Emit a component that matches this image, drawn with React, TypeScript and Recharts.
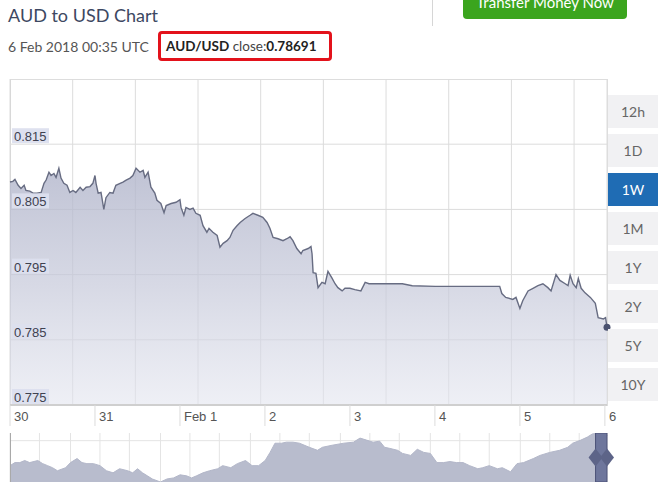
import React from 'react';
import { AreaChart, Area, XAxis, YAxis, CartesianGrid, ReferenceArea } from 'recharts';

// main 1W series: hours since 30 Jan 00:00 UTC, AUD/USD rate
const hours = [
  0, 0.8, 1.4, 2.3, 3.1, 4.0, 4.5, 5.6, 6.5, 7.6,
  8.8, 9.6, 10.2, 11.0, 11.6, 12.4, 13.0, 13.8, 14.4, 15.2,
  16.1, 16.9, 17.8, 18.6, 19.8, 20.6, 21.5, 22.6, 23.4, 24.0,
  24.3, 24.9, 25.7, 26.5, 27.1, 28.2, 29.1, 29.9, 31.1, 31.9,
  32.8, 33.9, 34.7, 35.6, 36.7, 37.6, 38.1, 39.0, 39.8, 40.9,
  41.5, 42.6, 43.5, 44.1, 45.5, 46.9, 48.0, 48.3, 49.1, 49.7,
  50.8, 51.7, 52.5, 53.7, 54.5, 55.6, 56.2, 57.3, 58.5, 59.3,
  60.2, 61.3, 62.1, 63.0, 64.1, 65.0, 66.4, 67.8, 68.6, 70.0,
  71.4, 72.6, 73.4, 74.3, 75.7, 77.1, 78.2, 79.1, 79.9, 81.0,
  82.2, 82.7, 84.2, 85.0, 85.3, 85.6, 86.4, 87.0, 88.1, 89.0,
  89.8, 90.9, 91.8, 92.6, 93.8, 94.6, 96.0, 97.4, 99.1, 100.3,
  101.4, 110.8, 113.6, 120.1, 138.3, 138.9, 140.0, 142.0, 142.9, 144.0,
  144.8, 146.3, 147.7, 149.1, 150.5, 151.9, 152.8, 154.2, 155.3, 156.8,
  157.6, 158.2, 159.0, 159.9, 160.5, 161.3, 162.4, 163.9, 165.3, 166.1,
  167.6, 168.2, 168.6,
];
const rates = [
  0.8092, 0.8093, 0.8096, 0.8087, 0.8082, 0.8087, 0.8079, 0.8078, 0.8075, 0.8075,
  0.8076, 0.8090, 0.8095, 0.8107, 0.8102, 0.8105, 0.8099, 0.8113, 0.8098, 0.8090,
  0.8087, 0.8076, 0.8079, 0.8076, 0.8084, 0.8079, 0.8084, 0.8085, 0.8090, 0.8102,
  0.8090, 0.8075, 0.8076, 0.8050, 0.8068, 0.8076, 0.8075, 0.8087, 0.8090, 0.8092,
  0.8095, 0.8098, 0.8102, 0.8113, 0.8107, 0.8110, 0.8099, 0.8107, 0.8084, 0.8075,
  0.8064, 0.8059, 0.8045, 0.8056, 0.8059, 0.8061, 0.8065, 0.8053, 0.8041, 0.8053,
  0.8050, 0.8052, 0.8044, 0.8041, 0.8025, 0.8015, 0.8021, 0.8015, 0.8010, 0.7992,
  0.7998, 0.8002, 0.8007, 0.8018, 0.8025, 0.8030, 0.8036, 0.8041, 0.8044, 0.8041,
  0.8038, 0.8030, 0.8021, 0.8007, 0.8005, 0.8002, 0.8005, 0.8008, 0.8002, 0.7990,
  0.7982, 0.7987, 0.7990, 0.7993, 0.7982, 0.7953, 0.7952, 0.7930, 0.7938, 0.7936,
  0.7955, 0.7945, 0.7936, 0.7930, 0.7925, 0.7929, 0.7929, 0.7927, 0.7925, 0.7938,
  0.7936, 0.7936, 0.7933, 0.7932, 0.7932, 0.7921, 0.7915, 0.7912, 0.7915, 0.7898,
  0.7910, 0.7925, 0.7929, 0.7933, 0.7936, 0.7930, 0.7925, 0.7950, 0.7941, 0.7936,
  0.7933, 0.7949, 0.7936, 0.7930, 0.7944, 0.7929, 0.7922, 0.7915, 0.7906, 0.7884,
  0.7882, 0.7884, 0.78691,
];

const dayTicks = [0, 24, 48, 72, 96, 120, 144, 168];
const dayLabels = ['30', '31', 'Feb 1', '2', '3', '4', '5', '6'];
const gridHours = [17.7, 35.4, 53.1, 70.8, 88.5, 106.2, 123.9, 141.6, 159.3];
const rateTicks = [0.775, 0.785, 0.795, 0.805, 0.815, 0.825];

// navigator (1 year, days) shown under the chart
const navDays = [
  0, 3, 6, 9, 12, 17, 20, 23, 26, 29, 34, 37, 41, 44, 47, 51, 55, 59, 63, 67,
  72, 75, 78, 81, 84, 87, 92, 96, 100, 104, 108, 111, 114, 118, 122, 127, 130, 135, 139, 144,
  148, 152, 156, 159, 162, 166, 169, 173, 177, 183, 188, 191, 197, 204, 210, 214, 218, 222, 226, 229,
  232, 237, 240, 245, 249, 253, 257, 261, 265, 269, 273, 277, 281, 286, 289, 293, 298, 301, 306, 310,
  314, 320, 324, 330, 336, 341, 344, 349, 353, 356, 360, 363, 365,
];
const navRates = [
  0.7599, 0.7649, 0.7649, 0.7683, 0.7649, 0.7683, 0.7632, 0.7599, 0.7565, 0.7515, 0.7565, 0.7649, 0.7716, 0.7649, 0.7632, 0.7632, 0.7599, 0.7515, 0.7481, 0.7548,
  0.7515, 0.7481, 0.7548, 0.7481, 0.7431, 0.7380, 0.7330, 0.7380, 0.7397, 0.7448, 0.7431, 0.7397, 0.7431, 0.7481, 0.7515, 0.7548, 0.7599, 0.7565, 0.7632, 0.7683,
  0.7599, 0.7599, 0.7683, 0.7817, 0.7968, 0.7968, 0.7985, 0.7985, 0.7968, 0.7901, 0.7851, 0.7901, 0.7935, 0.7968, 0.7985, 0.8052, 0.8019, 0.7985, 0.8002, 0.7901,
  0.7884, 0.7851, 0.7800, 0.7767, 0.7868, 0.7817, 0.7800, 0.7649, 0.7649, 0.7666, 0.7649, 0.7649, 0.7599, 0.7548, 0.7565, 0.7599, 0.7548, 0.7565, 0.7498, 0.7632,
  0.7649, 0.7716, 0.7767, 0.7817, 0.7851, 0.7901, 0.7968, 0.8019, 0.8069, 0.8120, 0.8136, 0.7968, 0.8103,
];
const navGridDays = [18, 37, 55, 73, 92, 110, 128, 147, 165, 183, 202, 220, 238, 257, 275, 293, 312, 330, 348];
const navGridRates = [0.7700, 0.7820, 0.7930, 0.8010];

const ranges = ['12h', '1D', '1W', '1M', '1Y', '2Y', '5Y', '10Y'];
const activeRange = '1W';
const closeRate = '0.78691';

const data = hours.map((h, i) => ({ h, rate: rates[i] }));
const navData = navDays.map((d, i) => ({ d, rate: navRates[i] }));

const axisFont = '"Liberation Sans", Arial, sans-serif';
const uiFont = 'Lato, "Open Sans", sans-serif';

const DayTick = (props: any) => {
  const { x, y, index } = props;
  return (
    <g>
      <line x1={x} x2={x} y1={y} y2={y + 21} stroke="#dcdcdc" />
      <text x={x + 4} y={y + 16} fill="#555" fontSize={13} fontFamily={axisFont}>
        {dayLabels[index]}
      </text>
    </g>
  );
};

const RateTick = (props: any) => {
  const { x, y, payload } = props;
  if (payload.value > 0.82) return <g />;
  return (
    <g>
      <rect x={x + 2} y={y - 16} width={37} height={15} fill="rgba(220,223,238,0.95)" />
      <text x={x + 4} y={y - 3} fill="#3f4150" fontSize={13} fontFamily={axisFont}>
        {payload.value.toFixed(3)}
      </text>
    </g>
  );
};

const LastDot = (props: any) => {
  const { cx, cy, index } = props;
  if (index !== data.length - 1) return <g key={index} />;
  return <circle key={index} cx={cx} cy={cy} r={3.5} fill="#4b5270" />;
};

const Handle = (props: any) => {
  const { x, y, width, height } = props;
  const cy = y + height / 2;
  const diamond = (cx: number) =>
    `${cx - 7},${cy} ${cx},${cy - 9} ${cx + 7},${cy} ${cx},${cy + 9}`;
  return (
    <g>
      <rect x={x} y={y} width={width} height={height} fill="#6e769c" stroke="#4c5278" />
      <polygon points={diamond(x)} fill="#5d6488" />
      <polygon points={diamond(x + width)} fill="#5d6488" />
    </g>
  );
};

export default function App() {
  return (
    <div style={{ position: 'absolute', left: 0, top: 0, width: 660, height: 494, background: '#fff', overflow: 'hidden', fontFamily: uiFont }}>
      {/* header */}
      <div style={{ position: 'absolute', left: 8, top: 4, fontSize: 18, color: '#3d4862' }}>AUD to USD Chart</div>
      <div style={{ position: 'absolute', left: 8, top: 38, fontSize: 14, color: '#555' }}>6 Feb 2018 00:35 UTC</div>
      <div style={{ position: 'absolute', left: 158, top: 31, width: 174, height: 30, boxSizing: 'border-box', border: '3px solid #e3121b', borderRadius: 4, fontSize: 13.5, color: '#222', lineHeight: '24px', paddingLeft: 5, whiteSpace: 'nowrap' }}>
        <b>AUD/USD</b> <span style={{ color: '#444' }}>close:</span><b>{closeRate}</b>
      </div>
      <div style={{ position: 'absolute', left: 432, top: 0, width: 1, height: 26, background: '#d6d6d6' }} />
      <div style={{ position: 'absolute', left: 463, top: -16, width: 164, height: 35, background: '#3ba51e', borderRadius: 4, color: '#fff', fontSize: 15, textAlign: 'center', lineHeight: '36px' }}>
        Transfer Money Now
      </div>

      {/* plot frame */}
      <div style={{ position: 'absolute', left: 10, top: 79, width: 596, height: 326, borderTop: '1px solid #dedede', borderLeft: '1px solid #d4d4d4', borderRight: '1px solid #dedede' }} />

      <div style={{ position: 'absolute', left: 0, top: 79 }}>
        <AreaChart width={620} height={356} data={data} margin={{ top: 0, right: 13, bottom: 0, left: 10 }}>
          <defs>
            <linearGradient id="areaFill" x1="0" y1="0" x2="0" y2="1">
              <stop offset="0%" stopColor="#b0b4ca" stopOpacity={0.8} />
              <stop offset="50%" stopColor="#c6c9da" stopOpacity={0.7} />
              <stop offset="100%" stopColor="#e3e5ef" stopOpacity={0.6} />
            </linearGradient>
          </defs>
          <CartesianGrid xAxisId="grid" stroke="#dcdcdc" />
          <XAxis xAxisId="time" type="number" dataKey="h" domain={[0, 168.6]} ticks={dayTicks} interval={0} height={30} tickSize={0} tickMargin={0} tickLine={false} axisLine={{ stroke: '#cfcfcf', strokeWidth: 2 }} tick={<DayTick />} />
          <XAxis xAxisId="grid" type="number" dataKey="h" domain={[0, 168.6]} ticks={gridHours} height={0} hide />
          <YAxis
            domain={[0.775, 0.825]}
            ticks={rateTicks}
            interval={0}
            allowDataOverflow
            mirror
            tickSize={0}
            tickMargin={0}
            axisLine={false}
            tickLine={false}
            tick={<RateTick />}
          />
          <Area
            xAxisId="time"
            type="linear"
            dataKey="rate"
            stroke="#676c82"
            strokeWidth={1.4}
            fill="url(#areaFill)"
            fillOpacity={1}
            dot={LastDot}
            activeDot={false}
            isAnimationActive={false}
          />
        </AreaChart>
      </div>

      {/* navigator */}
      <div style={{ position: 'absolute', left: 0, top: 433 }}>
        <AreaChart width={620} height={49} data={navData} margin={{ top: 0, right: 13, bottom: 0, left: 10 }}>
          <CartesianGrid stroke="#e4e4e4" horizontalValues={navGridRates} />
          <XAxis type="number" dataKey="d" domain={[0, 365]} ticks={navGridDays} hide />
          <YAxis domain={['dataMin', 'dataMax']} hide />
          <Area type="linear" dataKey="rate" stroke="#b3b7c9" strokeWidth={1} fill="#b8bccd" fillOpacity={1} dot={false} activeDot={false} isAnimationActive={false} />
          <ReferenceArea x1={358} x2={365} ifOverflow="visible" shape={<Handle />} />
        </AreaChart>
      </div>
      <div style={{ position: 'absolute', left: 10, top: 433, width: 1, height: 49, background: '#a9a9a9' }} />

      {/* range buttons */}
      {ranges.map((r, i) => {
        const active = r === activeRange;
        return (
          <div
            key={r}
            style={{
              position: 'absolute', left: 608, top: 95 + i * 39, width: 50, height: 33,
              background: active ? '#1f6cb4' : '#f1f1f3', color: active ? '#fff' : '#666',
              fontSize: 14, lineHeight: '33px', textAlign: 'center',
            }}
          >
            {r}
          </div>
        );
      })}
    </div>
  );
}
